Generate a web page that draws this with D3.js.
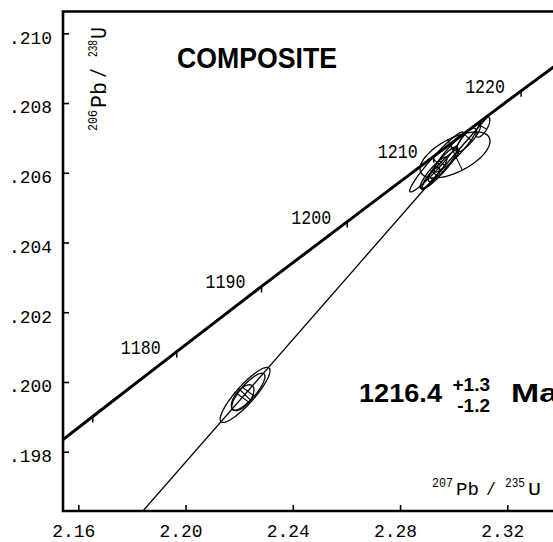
<!DOCTYPE html>
<html><head><meta charset="utf-8">
<script src="https://cdn.jsdelivr.net/npm/d3@7"></script>
<style>body{margin:0;background:#fff}svg{display:block}</style>
</head><body>
<svg id="chart" width="553" height="542"></svg>
<script>
// ---- data ----
const xTicks = [2.16, 2.20, 2.24, 2.28, 2.32];
const yTicks = [0.198, 0.200, 0.202, 0.204, 0.206, 0.208, 0.210];
const concordiaAges = [1160, 1170, 1180, 1190, 1200, 1210, 1220, 1230];
const concordiaX = [2.13437, 2.16539, 2.19671, 2.22835, 2.26031, 2.29257, 2.32516, 2.35807];
const concordiaY = [0.19715, 0.19901, 0.20087, 0.20274, 0.20460, 0.20647, 0.20835, 0.21022];
const tickAges = [1170, 1180, 1190, 1200, 1210, 1220];
const labeledAges = [1180, 1190, 1200, 1210, 1220];
const discordiaX = [2.1841, 2.3134];
const discordiaY = [0.19630, 0.20767];
const ellipseX   = [2.2222, 2.2234, 2.2213, 2.3005, 2.2936, 2.3005, 2.2960, 2.2925, 2.3055, 2.3109, 2.2915, 2.2950];
const ellipseY   = [0.19963, 0.19972, 0.19955, 0.20651, 0.20631, 0.20665, 0.20625, 0.20600, 0.20700, 0.20731, 0.20585, 0.20610];
const ellipseHX  = [0.0093, 0.0062, 0.0042, 0.01305, 0.0100, 0.0078, 0.0055, 0.0050, 0.0045, 0.0026, 0.0032, 0.0070];
const ellipseHY  = [0.00079, 0.00053, 0.00037, 0.00066, 0.00086, 0.00063, 0.00050, 0.00045, 0.00040, 0.00029, 0.00030, 0.00058];
const ellipseRho = [0.88, 0.82, 0.6, 0.6, 0.96, 0.92, 0.9, 0.9, 0.85, 0.7, 0.85, 0.95];
const titleText = "COMPOSITE";
const ageText = "1216.4", agePlus = "+1.3", ageMinus = "-1.2", ageUnit = "Ma";

// ---- layout ----
const svg = d3.select("#chart");
const L = 63, T = 11.5, B = 511, R = 620;
const x = d3.scaleLinear().domain([2.16, 2.32]).range([78.3, 507.3]);
const y = d3.scaleLinear().domain([0.198, 0.210]).range([451.7, 33.3]);
const mono = "'Liberation Mono','DejaVu Sans Mono',monospace";
const sans = "'Liberation Sans',Arial,Helvetica,sans-serif";

svg.append("defs").append("clipPath").attr("id", "clip")
  .append("rect").attr("x", L).attr("y", T).attr("width", R - L).attr("height", B - T);
const plot = svg.append("g").attr("clip-path", "url(#clip)");

// axes
const xAxis = d3.axisBottom(x).tickValues(xTicks).tickSize(-6).tickPadding(13)
  .tickFormat(d3.format(".2f"));
const gx = svg.append("g").attr("transform", `translate(0,${B})`).call(xAxis);
gx.select(".domain").remove();
gx.selectAll(".tick line").attr("stroke", "#000").attr("stroke-width", 1.6);
gx.selectAll(".tick text").attr("x", -5).attr("font-family", mono).attr("font-size", 18.5)
  .attr("fill", "#000").attr("textLength", 43).attr("lengthAdjust", "spacingAndGlyphs");

const yAxis = d3.axisLeft(y).tickValues(yTicks).tickSize(-6).tickPadding(11)
  .tickFormat(d => d3.format(".3f")(d).replace(/^0/, ""));
const gy = svg.append("g").attr("transform", `translate(${L},0)`).call(yAxis);
gy.select(".domain").remove();
gy.selectAll(".tick line").attr("stroke", "#000").attr("stroke-width", 1.6);
gy.selectAll(".tick text").attr("dy", "0.52em").attr("font-family", mono).attr("font-size", 19)
  .attr("fill", "#000").attr("textLength", 43).attr("lengthAdjust", "spacingAndGlyphs");

// frame
svg.append("path").attr("d", `M${R},${T}H${L}V${B}H${R}`)
  .attr("fill", "none").attr("stroke", "#000").attr("stroke-width", 2.6);

// concordia
const cPts = concordiaAges.map((a, i) => [x(concordiaX[i]), y(concordiaY[i])]);
plot.append("path").attr("d", d3.line().curve(d3.curveNatural)(cPts))
  .attr("fill", "none").attr("stroke", "#000").attr("stroke-width", 3);

tickAges.forEach(a => {
  const i = concordiaAges.indexOf(a);
  const px = x(concordiaX[i]), py = y(concordiaY[i]);
  plot.append("line").attr("x1", px).attr("x2", px).attr("y1", py).attr("y2", py + 6)
    .attr("stroke", "#000").attr("stroke-width", 1.5);
});
labeledAges.forEach(a => {
  const i = concordiaAges.indexOf(a);
  const px = x(concordiaX[i]), py = y(concordiaY[i]);
  plot.append("text").attr("x", px - 16).attr("y", py + 2).attr("text-anchor", "end")
    .attr("font-family", mono).attr("font-size", 21).attr("textLength", 40)
    .attr("lengthAdjust", "spacingAndGlyphs").text(a);
});

// discordia
plot.append("line")
  .attr("x1", x(discordiaX[0])).attr("y1", y(discordiaY[0]))
  .attr("x2", x(discordiaX[1])).attr("y2", y(discordiaY[1]))
  .attr("stroke", "#000").attr("stroke-width", 1.3);

// error ellipses
const N = 120;
ellipseX.forEach((cx, i) => {
  const cy = ellipseY[i], hx = ellipseHX[i], hy = ellipseHY[i], r = ellipseRho[i];
  const s = Math.sqrt(1 - r * r);
  const pts = d3.range(N).map(k => {
    const t = 2 * Math.PI * k / N;
    return [x(cx + hx * Math.cos(t)), y(cy + hy * (r * Math.cos(t) + s * Math.sin(t)))];
  });
  plot.append("path").attr("d", d3.line().curve(d3.curveLinearClosed)(pts))
    .attr("fill", "none").attr("stroke", "#000").attr("stroke-width", 1.3);
  // minor-axis chord (cross mark)
  const c = [x(cx), y(cy)];
  let best = pts[0], bd = Infinity;
  pts.forEach(p => { const d = Math.hypot(p[0] - c[0], p[1] - c[1]); if (d < bd) { bd = d; best = p; } });
  plot.append("line").attr("x1", best[0]).attr("y1", best[1])
    .attr("x2", 2 * c[0] - best[0]).attr("y2", 2 * c[1] - best[1])
    .attr("stroke", "#000").attr("stroke-width", 1.1);
});

// titles
svg.append("text").attr("x", 177).attr("y", 68).attr("font-family", sans).attr("font-weight", "bold")
  .attr("font-size", 29).attr("textLength", 160).attr("lengthAdjust", "spacingAndGlyphs").text(titleText);

svg.append("text").attr("x", 359).attr("y", 402).attr("font-family", sans).attr("font-weight", "bold")
  .attr("font-size", 26.5).attr("textLength", 83).attr("lengthAdjust", "spacingAndGlyphs").text(ageText);
svg.append("text").attr("x", 490).attr("y", 391).attr("text-anchor", "end").attr("font-family", sans)
  .attr("font-weight", "bold").attr("font-size", 19).text(agePlus);
svg.append("text").attr("x", 490).attr("y", 412).attr("text-anchor", "end").attr("font-family", sans)
  .attr("font-weight", "bold").attr("font-size", 19).text(ageMinus);
svg.append("text").attr("x", 511).attr("y", 402).attr("font-family", sans).attr("font-weight", "bold")
  .attr("font-size", 26.5).attr("textLength", 47).attr("lengthAdjust", "spacingAndGlyphs").text(ageUnit);

// axis titles
function isoLabel(g, parts) {
  parts.forEach(p => {
    g.append("text").attr("x", p.x).attr("y", p.y).attr("font-family", mono)
      .attr("font-size", p.fs).attr("textLength", p.w).attr("lengthAdjust", "spacingAndGlyphs").text(p.t);
  });
}
isoLabel(svg.append("g"), [
  {t: "207", x: 432, y: 487, fs: 13, w: 21},
  {t: "Pb", x: 456, y: 495, fs: 19, w: 23},
  {t: "/", x: 486, y: 495, fs: 19, w: 10},
  {t: "235", x: 505, y: 487, fs: 13, w: 20},
  {t: "U", x: 528, y: 495, fs: 19, w: 13}
]);
isoLabel(svg.append("g").attr("transform", "translate(106,131) rotate(-90)"), [
  {t: "206", x: 0, y: -9, fs: 13, w: 21},
  {t: "Pb", x: 23, y: 0, fs: 22, w: 26},
  {t: "/", x: 53, y: 0, fs: 22, w: 10},
  {t: "238", x: 74, y: -9, fs: 13, w: 17},
  {t: "U", x: 92, y: 0, fs: 22, w: 12}
]);
</script>
</body></html>
